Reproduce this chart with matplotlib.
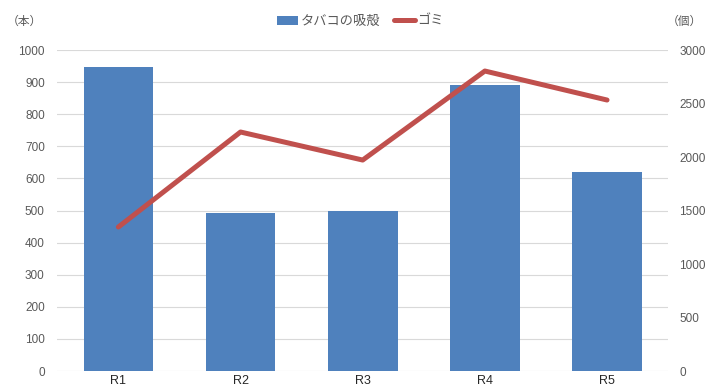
import matplotlib.pyplot as plt
import numpy as np

plt.rcParams['font.family'] = ['Noto Sans CJK JP', 'DejaVu Sans']

categories = ["R1", "R2", "R3", "R4", "R5"]
tobacco = [947, 492, 498, 891, 620]
garbage = [1346, 2234, 1972, 2804, 2533]

BLUE = "#4F81BD"
RED = "#C0504D"
TXT = "#595959"
NUM_FONT = ["Liberation Sans", "DejaVu Sans"]

fig = plt.figure(figsize=(7.07, 3.91), dpi=100)
ax = fig.add_axes([0.081, 0.051, 0.864, 0.821])
ax2 = ax.twinx()

x = np.arange(len(categories))
ax.bar(x, tobacco, width=0.57, color=BLUE, label="タバコの吸殻", zorder=2)
ax2.plot(x, garbage, color=RED, linewidth=3.6, label="ゴミ", solid_capstyle="round")

ax.set_xlim(-0.5, len(categories) - 0.5)
ax.set_ylim(0, 1000)
ax.set_yticks(range(0, 1001, 100))
ax2.set_ylim(0, 3000)
ax2.set_yticks(range(0, 3001, 500))

ax.set_xticks(x)
ax.set_xticklabels(categories)
ax.grid(axis="y", color="#D9D9D9", linewidth=0.8, zorder=0)
ax.set_axisbelow(True)

for a in (ax, ax2):
    for s in a.spines.values():
        s.set_visible(False)
    a.tick_params(length=0, labelsize=8.5, labelcolor=TXT)
    for lab in a.get_yticklabels():
        lab.set_family(NUM_FONT)
for lab in ax.get_xticklabels():
    lab.set_family(NUM_FONT)
    lab.set_fontsize(9)
    lab.set_color("#262626")
ax.tick_params(axis="y", pad=9)
ax2.tick_params(axis="y", pad=8)
ax.tick_params(axis="x", pad=3)

fig.text(0.035, 0.945, "（本）", fontsize=8.5, color=TXT, ha="center", va="center")
fig.text(0.968, 0.945, "（個）", fontsize=8.5, color=TXT, ha="center", va="center")

h1, l1 = ax.get_legend_handles_labels()
h2, l2 = ax2.get_legend_handles_labels()
fig.legend(h1 + h2, l1 + l2, loc="center", bbox_to_anchor=(0.51, 0.945), ncol=2,
           frameon=False, fontsize=9.5, handlelength=1.6, handletextpad=0.2,
           columnspacing=1.0, labelcolor=TXT)

plt.savefig("out.png", dpi=100)
